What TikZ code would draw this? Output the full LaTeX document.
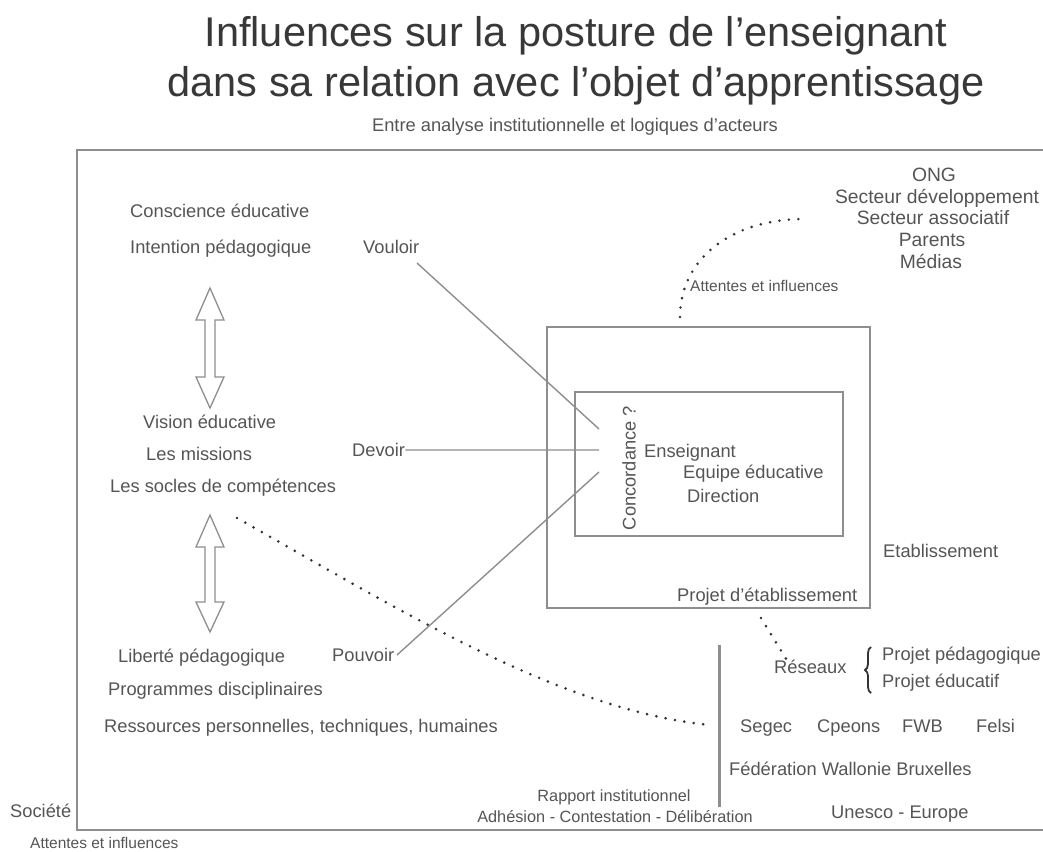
\documentclass[tikz,border=0pt]{standalone}
\usepackage{fontspec}
\setmainfont{Liberation Sans}
\usetikzlibrary{decorations.pathreplacing}
\definecolor{txt}{HTML}{555555}
\definecolor{ttl}{HTML}{383838}
\definecolor{ln}{HTML}{8E8E8E}
\definecolor{dotc}{HTML}{333333}
\begin{document}
\begin{tikzpicture}[x=1pt,y=-1pt,
  lbl/.style={inner sep=0pt, text=txt, font=\fontsize{18.3}{22}\selectfont},
  ong/.style={inner sep=0pt, text=txt, font=\fontsize{19.3}{22}\selectfont, anchor=base},
  mid/.style={inner sep=0pt, text=txt, font=\fontsize{16.3}{19}\selectfont, anchor=base},
  small/.style={inner sep=0pt, text=txt, font=\fontsize{15.5}{18}\selectfont, anchor=base west},
  ttlstyle/.style={inner sep=0pt, text=ttl, font=\fontsize{41.5}{48}\selectfont, anchor=base},
  thinline/.style={draw=ln, line width=1.4pt},
  boxline/.style={draw=ln, line width=1.8pt},
  vline/.style={draw=ln, line width=3pt},
  dots/.style={draw=dotc, line width=2.9pt, line cap=round, dash pattern=on 0pt off 9.5pt},
  hollow/.style={draw=ln, line width=1.3pt, fill=white, line join=miter}]
\useasboundingbox (0,0) rectangle (1043,851);
\fill[white] (0,0) rectangle (1043,851);

% titles
\node[ttlstyle] (t1) at (576,47) {Influences sur la posture de l’enseignant};
\node[ttlstyle] (t2) at (576,96) {dans sa relation avec l’objet d’apprentissage};
\node[lbl, anchor=base] (sub) at (575,131) {Entre analyse institutionnelle et logiques d’acteurs};

% boxes
\draw[boxline] (77,150) rectangle (1070,830);
\draw[boxline] (547,327) rectangle (870,608);
\draw[boxline] (575,392) rectangle (843,536);

% left column
\node[lbl, anchor=base west] (consc) at (130,217.5) {Conscience éducative};
\node[lbl, anchor=base west] (inten) at (130,253.5) {Intention pédagogique};
\node[lbl, anchor=base west] (vision) at (143,428.5) {Vision éducative};
\node[lbl, anchor=base west] (miss) at (146,460.5) {Les missions};
\node[lbl, anchor=base west] (socles) at (110,492.5) {Les socles de compétences};
\node[lbl, anchor=base west] (lib) at (118,662.5) {Liberté pédagogique};
\node[lbl, anchor=base west] (prog) at (108,695.5) {Programmes disciplinaires};
\node[lbl, anchor=base west] (ress) at (104,732.5) {Ressources personnelles, techniques, humaines};
\node[lbl, anchor=base west] (vouloir) at (363,253.5) {Vouloir};
\node[lbl, anchor=base west] (devoir) at (352,456.5) {Devoir};
\node[lbl, anchor=base west] (pouvoir) at (332,661.5) {Pouvoir};
\node[lbl, anchor=base west] (soc) at (10,817.5) {Société};
\node[small] (att1) at (30,848.6) {Attentes et influences};

% hollow double arrows
\draw[hollow] (210,288) -- (224,320) -- (215,320) -- (215,377) -- (224,377) -- (210,408)
  -- (196,377) -- (205,377) -- (205,320) -- (196,320) -- cycle;
\draw[hollow] (210,515) -- (224,547) -- (215,547) -- (215,602) -- (224,602) -- (210,632)
  -- (196,602) -- (205,602) -- (205,547) -- (196,547) -- cycle;

% centre
\node[lbl, rotate=90] (conc) at (629,468) {Concordance ?};
\node[lbl, anchor=base west] (ens) at (644,457.5) {Enseignant};
\node[lbl, anchor=base west] (equipe) at (683,478.5) {Equipe éducative};
\node[lbl, anchor=base west] (dir) at (687,502.5) {Direction};
\node[lbl, anchor=base west] (etab) at (883,557.5) {Etablissement};
\node[lbl, anchor=base west] (projetab) at (677,601.5) {Projet d’établissement};

\coordinate (v0) at (417,263);
\coordinate (cv) at (599,429);
\coordinate (cd) at (599,450);
\coordinate (p0) at (397,655);
\coordinate (cp) at (599,472);
\draw[thinline] (v0) -- (cv);
\draw[thinline] (devoir.east) -- (cd);
\draw[thinline] (p0) -- (cp);

% top right
\node[ong] (ong1) at (934,181) {ONG};
\node[ong] (ong2) at (937,203) {Secteur développement};
\node[ong] (ong3) at (933,224) {Secteur associatif};
\node[ong] (ong4) at (932,246) {Parents};
\node[ong] (ong5) at (931,268) {Médias};
\node[small] (att2) at (690,291.6) {Attentes et influences};
\coordinate (a0) at (680,317);
\coordinate (a1) at (805,219);
\draw[dots] (a0) .. controls (680,260) and (730,219) .. (a1);

% bottom right
\coordinate (vt) at (719,645);
\coordinate (vb) at (719,807);
\draw[vline] (vt) -- (vb);
\coordinate (r0) at (761,618);
\coordinate (r1) at (788,662);
\draw[dots] (r0) -- (r1);
\node[lbl, anchor=base west] (res) at (774,673.5) {Réseaux};
\coordinate (b0) at (871,693);
\coordinate (b1) at (871,647);
\draw[draw=dotc, line width=1.8pt, decorate, decoration={brace, amplitude=6pt}] (b0) -- (b1);
\node[lbl, anchor=base west] (ppeda) at (882,660.5) {Projet pédagogique};
\node[lbl, anchor=base west] (pedu) at (882,687.5) {Projet éducatif};
\node[lbl, anchor=base west] (segec) at (740,732.5) {Segec};
\node[lbl, anchor=base west] (cpeons) at (817,732.5) {Cpeons};
\node[lbl, anchor=base west] (fwb) at (902,732.5) {FWB};
\node[lbl, anchor=base west] (felsi) at (976,732.5) {Felsi};
\node[lbl, anchor=base west] (fed) at (729,775.5) {Fédération Wallonie Bruxelles};
\node[lbl, anchor=base west] (unesco) at (831,818.5) {Unesco - Europe};
\node[mid] (rapp) at (614,801) {Rapport institutionnel};
\node[mid] (adh) at (615,822) {Adhésion - Contestation - Délibération};

% long dotted curve
\coordinate (s0) at (237,518);
\coordinate (s1) at (710,725);
\draw[dots] (s0) .. controls (400,610) and (560,710) .. (s1);
\end{tikzpicture}
\end{document}
